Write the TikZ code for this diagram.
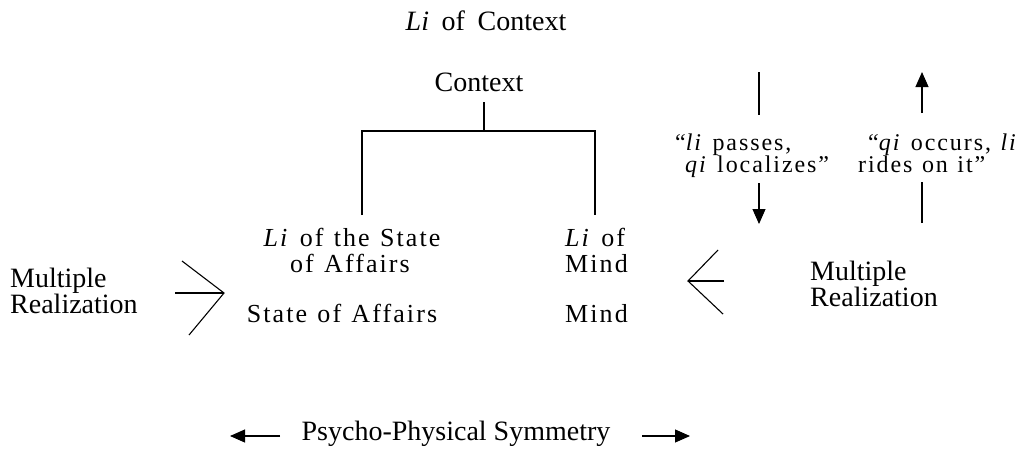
\documentclass[tikz,border=0pt]{standalone}
\usepackage{fontspec}
\setmainfont{Liberation Serif}
\newfontfamily\tmsfam[LetterSpace=8,WordSpace=1.2]{Liberation Serif}
\usetikzlibrary{arrows.meta}
\begin{document}
\begin{tikzpicture}[x=1pt,y=-1pt,
  every node/.style={inner sep=0pt},
  pal/.style={font=\fontsize{28}{24}\selectfont, anchor=base},
  palw/.style={font=\fontsize{28}{24}\selectfont, anchor=base west},
  tm/.style={font=\tmsfam\fontsize{26}{26}\selectfont, anchor=base},
  tmw/.style={font=\tmsfam\fontsize{26}{26}\selectfont, anchor=base west},
  tsw/.style={font=\tmsfam\fontsize{24}{22}\selectfont, anchor=base west},
  ln/.style={line width=1.1pt},
  tip/.style={line width=1.1pt,-{Triangle[length=15pt,width=13pt]}}]
\useasboundingbox (0,0) rectangle (1035,451);

% top texts
\node[pal] (lic) at (486,30) {\textit{Li}\hspace{0.45em}of\hspace{0.45em}Context};
\node[pal] (ctx) at (479,91) {Context};

% tree
\coordinate (jt) at (484,102);
\coordinate (jm) at (484,131);
\coordinate (jl) at (362,131);
\coordinate (jr) at (595,131);
\coordinate (jlb) at (362,215);
\coordinate (jrb) at (595,215);
\draw[ln] (jt) -- (jm);
\draw[ln] (jlb) -- (jl) -- (jr) -- (jrb);

% middle texts
\node[tm] (lsa1) at (352,246) {\textit{Li} of the State};
\node[tm] (lsa2) at (350,272) {of Affairs};
\node[tmw] (lm1) at (565,246) {\textit{Li} of};
\node[tmw] (lm2) at (565,272) {Mind};
\node[tm] (sa) at (342,322) {State of Affairs};
\node[tmw] (mind) at (565,322) {Mind};

% left multiple realization
\node[palw] (mrl1) at (10,287) {Multiple};
\node[palw] (mrl2) at (10,313) {Realization};
\coordinate (lch) at (175,293);
\coordinate (lca) at (224,293);
\coordinate (lct) at (182,261);
\coordinate (lcb) at (189,335);
\draw[ln] (lch) -- (lca);
\draw[ln] (lct) -- (lca) -- (lcb);

% right multiple realization
\node[palw] (mrr1) at (810,280) {Multiple};
\node[palw] (mrr2) at (810,306) {Realization};
\coordinate (rch) at (724,281);
\coordinate (rca) at (688,281);
\coordinate (rct) at (718,250);
\coordinate (rcb) at (723,314);
\draw[ln] (rch) -- (rca);
\draw[ln] (rct) -- (rca) -- (rcb);

% top right annotations
\node[tsw] (lp1) at (675,150) {“\textit{li} passes,};
\node[tsw] (lp2) at (685,172) {\textit{qi} localizes”};
\node[tsw] (qo1) at (868,150) {“\textit{qi} occurs, \textit{li}};
\node[tsw] (qo2) at (858,172) {rides on it”};
\coordinate (a1) at (759,72);
\coordinate (a2) at (759,115);
\coordinate (a3) at (759,183);
\coordinate (a4) at (759,224);
\draw[ln] (a1) -- (a2);
\draw[tip] (a3) -- (a4);
\coordinate (b1) at (922,72);
\coordinate (b2) at (922,113);
\coordinate (b3) at (922,182);
\coordinate (b4) at (922,223);
\draw[tip] (b2) -- (b1);
\draw[ln] (b4) -- (b3);

% bottom
\node[pal] (pps) at (456,440) {Psycho-Physical Symmetry};
\coordinate (p1) at (280,436);
\coordinate (p2) at (230,436);
\coordinate (p3) at (642,436);
\coordinate (p4) at (690,436);
\draw[tip] (p1) -- (p2);
\draw[tip] (p3) -- (p4);
\end{tikzpicture}
\end{document}
